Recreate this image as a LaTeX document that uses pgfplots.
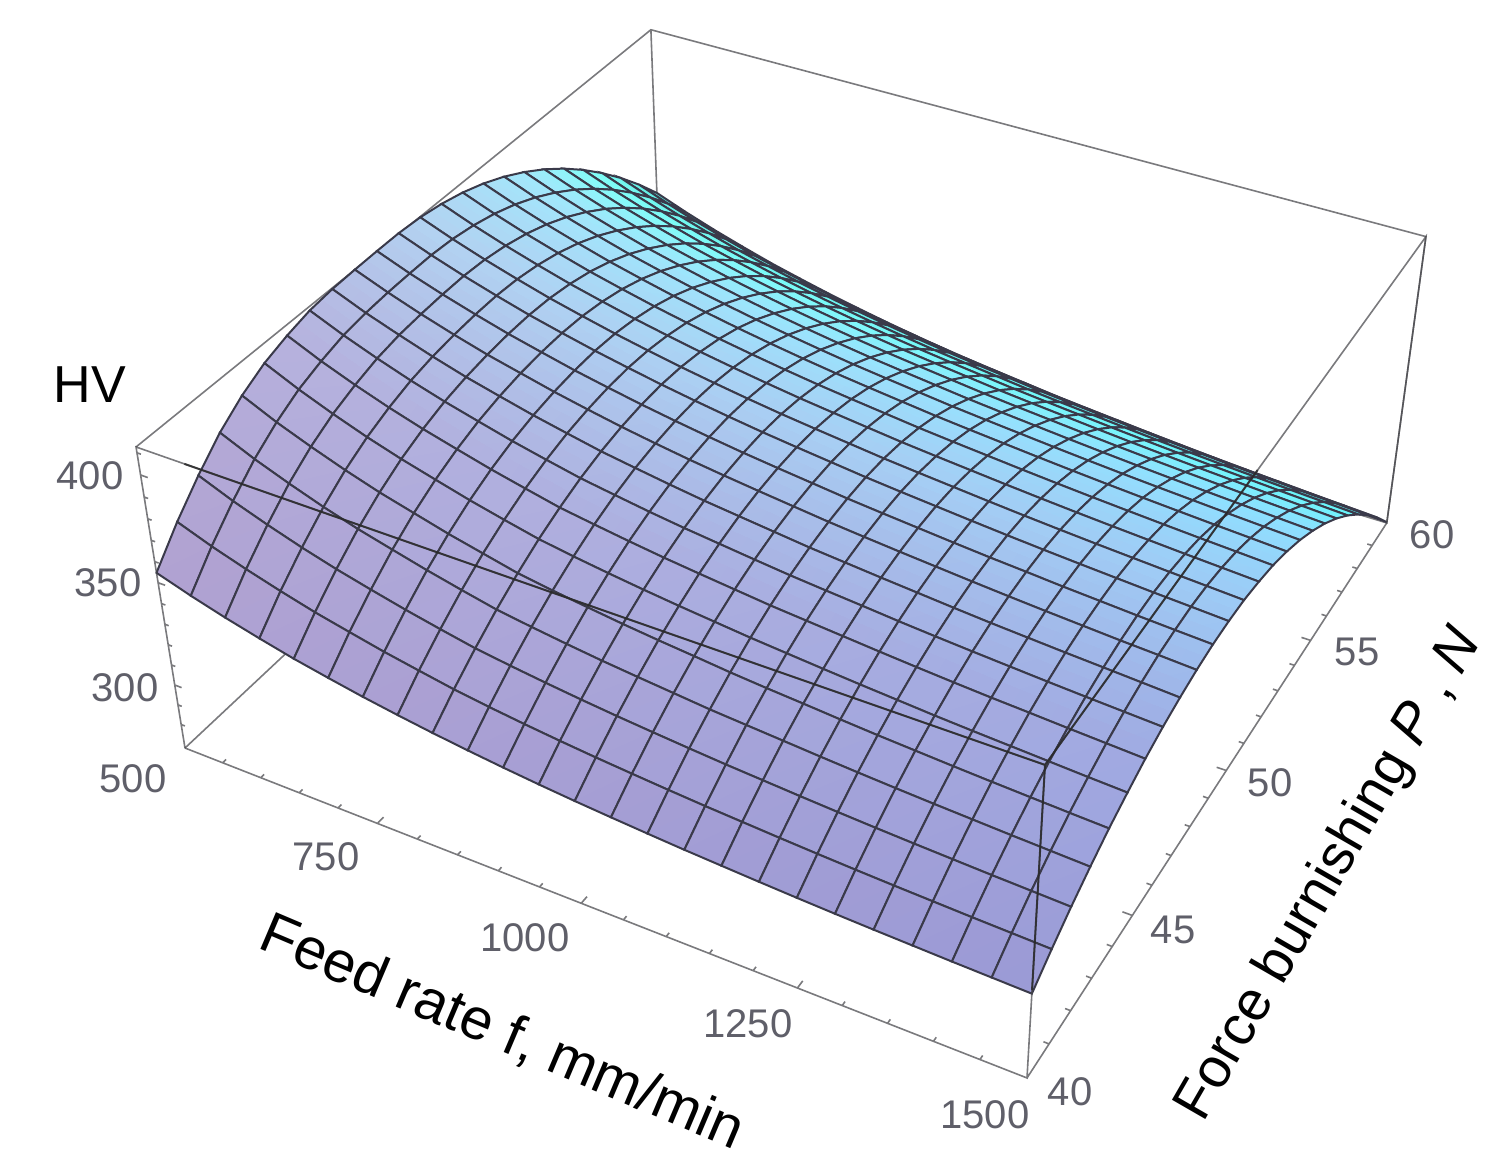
\documentclass[border=0pt]{standalone}
\usepackage{pgfplots}
\pgfplotsset{compat=1.18}
\usepackage{fontspec}
\setmainfont{Liberation Sans}
\definecolor{boxc}{RGB}{70,70,75}
\definecolor{meshc}{RGB}{58,58,74}
\definecolor{tickc}{RGB}{95,95,105}
% perspective of the reference's box: f (500..1500), P (40..60), HV (267.9..412.6)
\newcommand\Den[3]{(1-0.111*#1+0.215*#2-0.0715*#3)}
\newcommand\PX[3]{((185+728*#1+618*#2-58.7*#3)/\Den{#1}{#2}{#3})}
\newcommand\PY[3]{((748+210.3*#1-381*#2-333*#3)/\Den{#1}{#2}{#3})}
\newcommand\Uc{(\thisrow{f}-500)/1000}
\newcommand\Vc{(\thisrow{P}-40)/20}
\newcommand\Wc{(\thisrow{HV}-267.9)/144.7}
\newcommand\Us{((\coordindex-25*floor((\coordindex+0.5)/25))/24)}
\newcommand\Vs{(1-floor((\coordindex+0.5)/25)/24)}
\newcommand\Ws{((\thisrow{HV}-267.9)/144.7)}
\newcommand\Mp[1]{((\Vs-#1+abs(\Vs-#1))/2)}
\pgfplotsset{boxp/.style={mark=none,line width=0.8pt,boxc,opacity=0.72,forget plot,unbounded coords=jump}}
\newcommand\Lab[4]{\node[font=\fontsize{20}{24}\selectfont,text=#4] at (axis cs:#1,#2) {#3};}
\begin{document}
\begin{tikzpicture}[x=1pt,y=1pt]
\path[use as bounding box] (0,0) rectangle (747.5,584);
\begin{axis}[at={(0,0)},anchor=south west,width=747.5pt,height=584pt,scale only axis,
  axis lines=none,xmin=0,xmax=1495,ymin=0,ymax=1168,y dir=reverse,clip=false]
% rear edges of the box
\addplot[boxp] table[row sep=crcr,x expr={\PX{(\Uc)}{(\Vc)}{(\Wc)}},y expr={\PY{(\Uc)}{(\Vc)}{(\Wc)}}]{
f P HV\\
500 40 412.6\\ 500 60 412.6\\ 1500 60 412.6\\ 1500 60 267.9\\ 500 60 267.9\\ 500 40 267.9\\
nan nan nan\\
500 60 412.6\\ 500 60 267.9\\
};
% surface: rows P=60 down to P=40, in each row f=500..1500
\addplot[surf,shader=faceted interp,faceted color=meshc,line width=1pt,mesh/rows=25,mesh/cols=25,mesh/ordering=x varies,mesh/check=false,
  mesh/color input=explicit mathparse,
  point meta={symbolic={
   (176+24*\Vs-36*\Mp{0.25}-63*\Mp{0.5}-158*\Mp{0.7}-67*\Mp{0.85}-22*\Us)/255,
   (160+68*\Vs+64*\Mp{0.25}-32*\Mp{0.5}+67*\Mp{0.7}-334*\Mp{0.85}-8*\Us)/255,
   (208+52*\Vs+28*\Mp{0.25}-30*\Mp{0.5}-70*\Mp{0.7}-180*\Mp{0.85}+4*\Us)/255}}]
 table[row sep=crcr,x expr={\PX{\Us}{\Vs}{\Ws}},y expr={\PY{\Us}{\Vs}{\Ws}}]{
HV\\
328.0\\322.2\\317.0\\312.3\\307.9\\304.1\\300.5\\297.3\\294.3\\291.6\\289.1\\286.8\\284.8\\282.9\\281.0\\279.4\\277.9\\276.4\\275.0\\273.7\\272.5\\271.4\\270.3\\269.3\\268.3\\
340.4\\334.6\\329.4\\324.7\\320.3\\316.5\\312.9\\309.7\\306.7\\304.0\\301.5\\299.2\\297.2\\295.3\\293.4\\291.8\\290.3\\288.8\\287.4\\286.1\\284.9\\283.8\\282.7\\281.7\\280.7\\
351.8\\346.0\\340.8\\336.1\\331.7\\327.9\\324.3\\321.1\\318.1\\315.4\\312.9\\310.6\\308.6\\306.7\\304.8\\303.2\\301.7\\300.2\\298.8\\297.5\\296.3\\295.2\\294.1\\293.1\\292.1\\
362.2\\356.4\\351.2\\346.5\\342.1\\338.3\\334.7\\331.5\\328.5\\325.8\\323.3\\321.0\\319.0\\317.1\\315.2\\313.6\\312.1\\310.6\\309.2\\307.9\\306.7\\305.6\\304.5\\303.5\\302.5\\
371.7\\365.9\\360.7\\356.0\\351.6\\347.8\\344.2\\341.0\\338.0\\335.3\\332.8\\330.5\\328.5\\326.6\\324.7\\323.1\\321.6\\320.1\\318.7\\317.4\\316.2\\315.1\\314.0\\313.0\\312.0\\
380.2\\374.4\\369.2\\364.5\\360.1\\356.3\\352.7\\349.5\\346.5\\343.8\\341.3\\339.0\\337.0\\335.1\\333.2\\331.6\\330.1\\328.6\\327.2\\325.9\\324.7\\323.6\\322.5\\321.5\\320.5\\
387.7\\381.9\\376.7\\372.0\\367.6\\363.8\\360.2\\357.0\\354.0\\351.3\\348.8\\346.5\\344.5\\342.6\\340.7\\339.1\\337.6\\336.1\\334.7\\333.4\\332.2\\331.1\\330.0\\329.0\\328.0\\
394.2\\388.4\\383.2\\378.5\\374.1\\370.3\\366.7\\363.5\\360.5\\357.8\\355.3\\353.0\\351.0\\349.1\\347.2\\345.6\\344.1\\342.6\\341.2\\339.9\\338.7\\337.6\\336.5\\335.5\\334.5\\
399.8\\394.0\\388.8\\384.1\\379.7\\375.9\\372.3\\369.1\\366.1\\363.4\\360.9\\358.6\\356.6\\354.7\\352.8\\351.2\\349.7\\348.2\\346.8\\345.5\\344.3\\343.2\\342.1\\341.1\\340.1\\
404.4\\398.6\\393.4\\388.7\\384.3\\380.5\\376.9\\373.7\\370.7\\368.0\\365.5\\363.2\\361.2\\359.3\\357.4\\355.8\\354.3\\352.8\\351.4\\350.1\\348.9\\347.8\\346.7\\345.7\\344.7\\
408.0\\402.2\\397.0\\392.3\\387.9\\384.1\\380.5\\377.3\\374.3\\371.6\\369.1\\366.8\\364.8\\362.9\\361.0\\359.4\\357.9\\356.4\\355.0\\353.7\\352.5\\351.4\\350.3\\349.3\\348.3\\
410.6\\404.8\\399.6\\394.9\\390.5\\386.7\\383.1\\379.9\\376.9\\374.2\\371.7\\369.4\\367.4\\365.5\\363.6\\362.0\\360.5\\359.0\\357.6\\356.3\\355.1\\354.0\\352.9\\351.9\\350.9\\
412.3\\406.5\\401.3\\396.6\\392.2\\388.4\\384.8\\381.6\\378.6\\375.9\\373.4\\371.1\\369.1\\367.2\\365.3\\363.7\\362.2\\360.7\\359.3\\358.0\\356.8\\355.7\\354.6\\353.6\\352.6\\
413.0\\407.2\\402.0\\397.3\\392.9\\389.1\\385.5\\382.3\\379.3\\376.6\\374.1\\371.8\\369.8\\367.9\\366.0\\364.4\\362.9\\361.4\\360.0\\358.7\\357.5\\356.4\\355.3\\354.3\\353.3\\
412.9\\407.0\\401.8\\397.1\\392.7\\388.9\\385.2\\382.0\\379.0\\376.3\\373.8\\371.5\\369.5\\367.6\\365.7\\364.1\\362.6\\361.1\\359.7\\358.5\\357.2\\356.1\\355.0\\354.0\\353.1\\
412.6\\406.6\\401.2\\396.3\\391.8\\388.0\\384.2\\380.9\\377.8\\375.1\\372.6\\370.4\\368.4\\366.5\\364.6\\363.0\\361.5\\360.1\\358.7\\357.4\\356.2\\355.1\\354.0\\353.1\\352.1\\
412.1\\405.7\\400.2\\395.0\\390.3\\386.3\\382.4\\379.0\\375.7\\373.1\\370.6\\368.3\\366.4\\364.5\\362.6\\361.1\\359.6\\358.2\\356.8\\355.5\\354.4\\353.3\\352.3\\351.3\\350.3\\
410.8\\404.1\\398.2\\392.8\\388.0\\383.8\\379.7\\376.1\\372.7\\370.1\\367.6\\365.4\\363.5\\361.6\\359.8\\358.3\\356.9\\355.4\\354.1\\352.9\\351.8\\350.7\\349.7\\348.8\\347.9\\
408.0\\401.0\\394.9\\389.4\\384.5\\380.2\\376.0\\372.3\\368.7\\366.2\\363.8\\361.6\\359.7\\357.9\\356.1\\354.7\\353.3\\351.9\\350.6\\349.4\\348.3\\347.4\\346.4\\345.5\\344.6\\
404.2\\397.0\\390.7\\385.0\\380.0\\375.6\\371.3\\367.5\\363.9\\361.3\\359.0\\356.9\\355.0\\353.3\\351.6\\350.2\\348.8\\347.5\\346.3\\345.1\\344.1\\343.2\\342.3\\341.4\\340.6\\
398.4\\391.1\\384.9\\379.2\\374.1\\369.8\\365.5\\361.8\\358.1\\355.6\\353.4\\351.3\\349.5\\347.9\\346.2\\344.8\\343.6\\342.3\\341.1\\340.1\\339.1\\338.2\\337.4\\336.6\\335.9\\
390.6\\383.5\\377.4\\371.8\\366.9\\362.7\\358.6\\354.9\\351.4\\349.0\\346.8\\344.8\\343.1\\341.5\\339.9\\338.7\\337.5\\336.3\\335.2\\334.2\\333.3\\332.5\\331.7\\331.0\\330.3\\
380.3\\373.7\\368.0\\362.8\\358.2\\354.2\\350.4\\347.0\\343.8\\341.5\\339.4\\337.5\\335.8\\334.3\\332.9\\331.6\\330.5\\329.4\\328.4\\327.5\\326.7\\326.0\\325.3\\324.7\\324.1\\
368.5\\362.5\\357.3\\352.6\\348.3\\344.7\\341.2\\338.2\\335.3\\333.0\\331.0\\329.2\\327.6\\326.2\\324.9\\323.7\\322.7\\321.7\\320.8\\320.0\\319.3\\318.7\\318.1\\317.6\\317.1\\
354.7\\349.5\\344.9\\340.8\\337.0\\333.8\\330.8\\328.2\\325.8\\323.7\\321.8\\320.1\\318.6\\317.3\\316.1\\315.0\\314.1\\313.2\\312.4\\311.7\\311.1\\310.6\\310.1\\309.7\\309.3\\
};
% front edges of the box, with their tick marks
\addplot[boxp] table[row sep=crcr,x expr={\PX{(\Uc)}{(\Vc)}{(\Wc)}},y expr={\PY{(\Uc)}{(\Vc)}{(\Wc)}}]{
f P HV\\
500 40 267.9\\ 500 40 412.6\\ 1500 40 412.6\\ 1500 40 267.9\\ 500 40 267.9\\
nan nan nan\\
1500 40 267.9\\ 1500 60 267.9\\ 1500 60 412.6\\ 1500 40 412.6\\
nan nan nan\\
550 40 267.9\\550 40.12 267.9\\nan nan nan\\600 40 267.9\\600 40.12 267.9\\nan nan nan\\650 40 267.9\\650 40.12 267.9\\nan nan nan\\700 40 267.9\\700 40.12 267.9\\nan nan nan\\750 40 267.9\\750 40.22 267.9\\nan nan nan\\
800 40 267.9\\800 40.12 267.9\\nan nan nan\\850 40 267.9\\850 40.12 267.9\\nan nan nan\\900 40 267.9\\900 40.12 267.9\\nan nan nan\\950 40 267.9\\950 40.12 267.9\\nan nan nan\\1000 40 267.9\\1000 40.22 267.9\\nan nan nan\\
1050 40 267.9\\1050 40.12 267.9\\nan nan nan\\1100 40 267.9\\1100 40.12 267.9\\nan nan nan\\1150 40 267.9\\1150 40.12 267.9\\nan nan nan\\1200 40 267.9\\1200 40.12 267.9\\nan nan nan\\1250 40 267.9\\1250 40.22 267.9\\nan nan nan\\
1300 40 267.9\\1300 40.12 267.9\\nan nan nan\\1350 40 267.9\\1350 40.12 267.9\\nan nan nan\\1400 40 267.9\\1400 40.12 267.9\\nan nan nan\\1450 40 267.9\\1450 40.12 267.9\\nan nan nan\\
1500 41 267.9\\1494 41 267.9\\nan nan nan\\1500 42 267.9\\1494 42 267.9\\nan nan nan\\1500 43 267.9\\1494 43 267.9\\nan nan nan\\1500 44 267.9\\1494 44 267.9\\nan nan nan\\1500 45 267.9\\1489 45 267.9\\nan nan nan\\
1500 46 267.9\\1494 46 267.9\\nan nan nan\\1500 47 267.9\\1494 47 267.9\\nan nan nan\\1500 48 267.9\\1494 48 267.9\\nan nan nan\\1500 49 267.9\\1494 49 267.9\\nan nan nan\\1500 50 267.9\\1489 50 267.9\\nan nan nan\\
1500 51 267.9\\1494 51 267.9\\nan nan nan\\1500 52 267.9\\1494 52 267.9\\nan nan nan\\1500 53 267.9\\1494 53 267.9\\nan nan nan\\1500 54 267.9\\1494 54 267.9\\nan nan nan\\1500 55 267.9\\1489 55 267.9\\nan nan nan\\
1500 56 267.9\\1494 56 267.9\\nan nan nan\\1500 57 267.9\\1494 57 267.9\\nan nan nan\\1500 58 267.9\\1494 58 267.9\\nan nan nan\\1500 59 267.9\\1494 59 267.9\\nan nan nan\\
500 40 280\\505 40 280\\nan nan nan\\500 40 290\\505 40 290\\nan nan nan\\500 40 300\\509 40 300\\nan nan nan\\500 40 310\\505 40 310\\nan nan nan\\500 40 320\\505 40 320\\nan nan nan\\500 40 330\\505 40 330\\nan nan nan\\500 40 340\\505 40 340\\nan nan nan\\500 40 350\\509 40 350\\nan nan nan\\500 40 360\\505 40 360\\nan nan nan\\500 40 370\\505 40 370\\nan nan nan\\500 40 380\\505 40 380\\nan nan nan\\500 40 390\\505 40 390\\nan nan nan\\500 40 400\\509 40 400\\nan nan nan\\500 40 410\\505 40 410\\
};
% the parts of the front edges that lie over the surface look darker
\addplot[mark=none,line width=1pt,black!85,opacity=0.8,forget plot,unbounded coords=jump] table[row sep=crcr,x expr={\PX{(\Uc)}{(\Vc)}{(\Wc)}},y expr={\PY{(\Uc)}{(\Vc)}{(\Wc)}}]{
f P HV\\
560 40 412.6\\ 1500 40 412.6\\ 1500 40 311\\
nan nan nan\\
1500 40 412.6\\ 1500 50 412.6\\
};
\Lab{90}{476}{400}{tickc}
\Lab{108}{583}{350}{tickc}
\Lab{125}{688}{300}{tickc}
\Lab{133}{779}{500}{tickc}
\Lab{326}{857}{750}{tickc}
\Lab{525}{938}{1000}{tickc}
\Lab{748}{1024}{1250}{tickc}
\Lab{985}{1115}{1500}{tickc}
\Lab{1070}{1092}{40}{tickc}
\Lab{1173}{930}{45}{tickc}
\Lab{1270}{783}{50}{tickc}
\Lab{1357}{652}{55}{tickc}
\Lab{1432}{535}{60}{tickc}
\node[font=\fontsize{26}{30}\selectfont] at (axis cs:90,385) {HV};
\node[font=\fontsize{29}{34}\selectfont,rotate=-23] at (axis cs:502,1033) {Feed rate f, mm/min};
\node[font=\fontsize{28}{33}\selectfont,rotate=60] at (axis cs:1330,875) {Force burnishing \textit{P} , \textit{N}};
\end{axis}
\end{tikzpicture}
\end{document}
